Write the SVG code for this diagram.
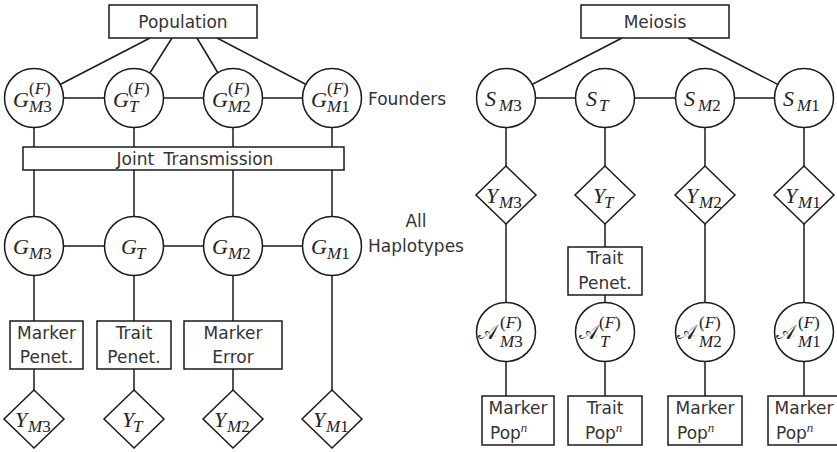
<svg xmlns="http://www.w3.org/2000/svg" width="837" height="452" viewBox="0 0 837 452">
<style>
.ln{stroke:#1a1a1a;stroke-width:1.5;fill:none}
.nd{fill:#fff;stroke:#1a1a1a;stroke-width:1.5}
.lb{font-family:"DejaVu Sans",sans-serif;font-size:17px;fill:#333;text-anchor:middle}
.lbs{font-family:"DejaVu Sans",sans-serif;font-size:17px;fill:#333}
.m{font-family:"Liberation Serif",serif;font-style:italic;font-size:22px;fill:#222}
.s{font-family:"Liberation Serif",serif;font-style:italic;font-size:17px;fill:#222}
.n{font-family:"Liberation Serif",serif;font-style:italic;font-size:13px;fill:#333}
.u{font-style:normal}
.ca{font-family:"DejaVu Sans","DejaVu Serif","Liberation Serif",serif;font-style:normal;font-size:20px;fill:#222}
</style>
<rect width="837" height="452" fill="#fff"/>
<g id="connectors">
<line class="ln" x1="150" y1="38" x2="34" y2="98"/>
<line class="ln" x1="172" y1="38" x2="134" y2="98"/>
<line class="ln" x1="197" y1="38" x2="233" y2="98"/>
<line class="ln" x1="217" y1="38" x2="332" y2="98"/>
<line class="ln" x1="34" y1="98" x2="332" y2="98"/>
<line class="ln" x1="34" y1="98" x2="34" y2="147"/>
<line class="ln" x1="134" y1="98" x2="134" y2="147"/>
<line class="ln" x1="233" y1="98" x2="233" y2="147"/>
<line class="ln" x1="332" y1="98" x2="332" y2="147"/>
<line class="ln" x1="34" y1="170" x2="34" y2="246"/>
<line class="ln" x1="134" y1="170" x2="134" y2="246"/>
<line class="ln" x1="233" y1="170" x2="233" y2="246"/>
<line class="ln" x1="332" y1="170" x2="332" y2="246"/>
<line class="ln" x1="34" y1="246" x2="332" y2="246"/>
<line class="ln" x1="34" y1="246" x2="34" y2="321"/>
<line class="ln" x1="134" y1="246" x2="134" y2="321"/>
<line class="ln" x1="233" y1="246" x2="233" y2="321"/>
<line class="ln" x1="332" y1="246" x2="332" y2="390"/>
<line class="ln" x1="34" y1="369" x2="34" y2="390"/>
<line class="ln" x1="134" y1="369" x2="134" y2="390"/>
<line class="ln" x1="233" y1="369" x2="233" y2="390"/>
<line class="ln" x1="622" y1="38" x2="506" y2="98"/>
<line class="ln" x1="688" y1="38" x2="804" y2="98"/>
<line class="ln" x1="506" y1="98" x2="804" y2="98"/>
<line class="ln" x1="506" y1="98" x2="506" y2="166"/>
<line class="ln" x1="605" y1="98" x2="605" y2="166"/>
<line class="ln" x1="705" y1="98" x2="705" y2="166"/>
<line class="ln" x1="804" y1="98" x2="804" y2="166"/>
<line class="ln" x1="506" y1="224" x2="506" y2="302"/>
<line class="ln" x1="605" y1="224" x2="605" y2="247"/>
<line class="ln" x1="605" y1="295" x2="605" y2="302"/>
<line class="ln" x1="705" y1="224" x2="705" y2="302"/>
<line class="ln" x1="804" y1="224" x2="804" y2="302"/>
<line class="ln" x1="506" y1="362" x2="506" y2="396"/>
<line class="ln" x1="605" y1="362" x2="605" y2="396"/>
<line class="ln" x1="705" y1="362" x2="705" y2="396"/>
<line class="ln" x1="804" y1="362" x2="804" y2="396"/>
</g>
<g id="population"><rect class="nd" x="109" y="5" width="148" height="33"/><text class="lb" x="183" y="28">Population</text></g>
<g id="GF_M3"><circle class="nd" cx="34" cy="98" r="29.5"/><text class="m" x="13" y="107">G</text><text class="s" x="29" y="94"><tspan class="u">(</tspan>F<tspan class="u">)</tspan></text><text class="s" x="29" y="112">M<tspan class="u">3</tspan></text></g>
<g id="GF_T"><circle class="nd" cx="134" cy="98" r="29.5"/><text class="m" x="113" y="107">G</text><text class="s" x="128" y="94"><tspan class="u">(</tspan>F<tspan class="u">)</tspan></text><text class="s" x="129" y="112">T</text></g>
<g id="GF_M2"><circle class="nd" cx="233" cy="98" r="29.5"/><text class="m" x="212" y="107">G</text><text class="s" x="228" y="94"><tspan class="u">(</tspan>F<tspan class="u">)</tspan></text><text class="s" x="228" y="112">M<tspan class="u">2</tspan></text></g>
<g id="GF_M1"><circle class="nd" cx="332" cy="98" r="29.5"/><text class="m" x="311" y="107">G</text><text class="s" x="327" y="94"><tspan class="u">(</tspan>F<tspan class="u">)</tspan></text><text class="s" x="327" y="112">M<tspan class="u">1</tspan></text></g>
<g id="founders-label"><text class="lbs" x="368" y="105">Founders</text></g>
<g id="joint"><rect class="nd" x="23" y="147" width="321" height="23"/><text class="lb" x="195" y="165" word-spacing="4" font-size="17.5">Joint Transmission</text></g>
<g id="G_M3"><circle class="nd" cx="34" cy="246" r="29.5"/><text class="m" x="13" y="254">G</text><text class="s" x="29" y="259">M<tspan class="u">3</tspan></text></g>
<g id="G_T"><circle class="nd" cx="134" cy="246" r="29.5"/><text class="m" x="121" y="254">G</text><text class="s" x="136" y="259">T</text></g>
<g id="G_M2"><circle class="nd" cx="233" cy="246" r="29.5"/><text class="m" x="212" y="254">G</text><text class="s" x="228" y="259">M<tspan class="u">2</tspan></text></g>
<g id="G_M1"><circle class="nd" cx="332" cy="246" r="29.5"/><text class="m" x="311" y="254">G</text><text class="s" x="327" y="259">M<tspan class="u">1</tspan></text></g>
<g id="haplotypes-label"><text class="lb" x="416" y="227">All</text><text class="lb" x="416" y="252">Haplotypes</text></g>
<g id="marker-penet"><rect class="nd" x="10" y="321" width="73" height="48"/><text class="lb" x="46.5" y="339">Marker</text><text class="lb" x="46.5" y="363">Penet.</text></g>
<g id="trait-penet-left"><rect class="nd" x="97" y="321" width="74" height="48"/><text class="lb" x="134" y="339">Trait</text><text class="lb" x="134" y="363">Penet.</text></g>
<g id="marker-error"><rect class="nd" x="184" y="321" width="98" height="48"/><text class="lb" x="233" y="339">Marker</text><text class="lb" x="233" y="363">Error</text></g>
<g id="YL_M3"><polygon class="nd" points="34,390 64,419 34,448 4,419"/><text class="m" x="15" y="427">Y</text><text class="s" x="28" y="432">M<tspan class="u">3</tspan></text></g>
<g id="YL_T"><polygon class="nd" points="134,390 164,419 134,448 104,419"/><text class="m" x="122" y="427">Y</text><text class="s" x="133" y="432">T</text></g>
<g id="YL_M2"><polygon class="nd" points="233,390 263,419 233,448 203,419"/><text class="m" x="214" y="427">Y</text><text class="s" x="227" y="432">M<tspan class="u">2</tspan></text></g>
<g id="YL_M1"><polygon class="nd" points="332,390 362,419 332,448 302,419"/><text class="m" x="313" y="427">Y</text><text class="s" x="326" y="432">M<tspan class="u">1</tspan></text></g>
<g id="meiosis"><rect class="nd" x="581" y="5" width="148" height="33"/><text class="lb" x="655" y="28">Meiosis</text></g>
<g id="S_M3"><circle class="nd" cx="506" cy="98" r="29.5"/><text class="m" x="485" y="106">S</text><text class="s" x="499" y="111">M<tspan class="u">3</tspan></text></g>
<g id="S_T"><circle class="nd" cx="605" cy="98" r="29.5"/><text class="m" x="586" y="106">S</text><text class="s" x="599" y="111">T</text></g>
<g id="S_M2"><circle class="nd" cx="705" cy="98" r="29.5"/><text class="m" x="684" y="106">S</text><text class="s" x="698" y="111">M<tspan class="u">2</tspan></text></g>
<g id="S_M1"><circle class="nd" cx="804" cy="98" r="29.5"/><text class="m" x="783" y="106">S</text><text class="s" x="797" y="111">M<tspan class="u">1</tspan></text></g>
<g id="YR_M3"><polygon class="nd" points="506,166 536,195 506,224 476,195"/><text class="m" x="486" y="203">Y</text><text class="s" x="499" y="208">M<tspan class="u">3</tspan></text></g>
<g id="YR_T"><polygon class="nd" points="605,166 635,195 605,224 575,195"/><text class="m" x="593" y="203">Y</text><text class="s" x="604" y="208">T</text></g>
<g id="YR_M2"><polygon class="nd" points="705,166 735,195 705,224 675,195"/><text class="m" x="686" y="203">Y</text><text class="s" x="699" y="208">M<tspan class="u">2</tspan></text></g>
<g id="YR_M1"><polygon class="nd" points="804,166 834,195 804,224 774,195"/><text class="m" x="785" y="203">Y</text><text class="s" x="798" y="208">M<tspan class="u">1</tspan></text></g>
<g id="trait-penet-right"><rect class="nd" x="568" y="247" width="74" height="48"/><text class="lb" x="605" y="264">Trait</text><text class="lb" x="605" y="289">Penet.</text></g>
<g id="A_M3"><circle class="nd" cx="506" cy="332" r="29.5"/><text class="ca" x="478" y="339">𝒜</text><text class="s" x="500" y="328"><tspan class="u">(</tspan>F<tspan class="u">)</tspan></text><text class="s" x="500" y="347">M<tspan class="u">3</tspan></text></g>
<g id="A_T"><circle class="nd" cx="605" cy="332" r="29.5"/><text class="ca" x="579" y="339">𝒜</text><text class="s" x="599" y="328"><tspan class="u">(</tspan>F<tspan class="u">)</tspan></text><text class="s" x="600" y="347">T</text></g>
<g id="A_M2"><circle class="nd" cx="705" cy="332" r="29.5"/><text class="ca" x="677" y="339">𝒜</text><text class="s" x="699" y="328"><tspan class="u">(</tspan>F<tspan class="u">)</tspan></text><text class="s" x="699" y="347">M<tspan class="u">2</tspan></text></g>
<g id="A_M1"><circle class="nd" cx="804" cy="332" r="29.5"/><text class="ca" x="776" y="339">𝒜</text><text class="s" x="798" y="328"><tspan class="u">(</tspan>F<tspan class="u">)</tspan></text><text class="s" x="798" y="347">M<tspan class="u">1</tspan></text></g>
<g id="pop-M3"><rect class="nd" x="482" y="396" width="72" height="49"/><text class="lb" x="518" y="414">Marker</text><text class="lbs" x="490" y="439">Pop<tspan class="n" dy="-7">n</tspan></text></g>
<g id="pop-T"><rect class="nd" x="568" y="396" width="74" height="49"/><text class="lb" x="605" y="414">Trait</text><text class="lbs" x="585" y="439">Pop<tspan class="n" dy="-7">n</tspan></text></g>
<g id="pop-M2"><rect class="nd" x="668" y="396" width="74" height="49"/><text class="lb" x="705" y="414">Marker</text><text class="lbs" x="677" y="439">Pop<tspan class="n" dy="-7">n</tspan></text></g>
<g id="pop-M1"><rect class="nd" x="768" y="396" width="72" height="49"/><text class="lb" x="804" y="414">Marker</text><text class="lbs" x="776" y="439">Pop<tspan class="n" dy="-7">n</tspan></text></g>
</svg>
